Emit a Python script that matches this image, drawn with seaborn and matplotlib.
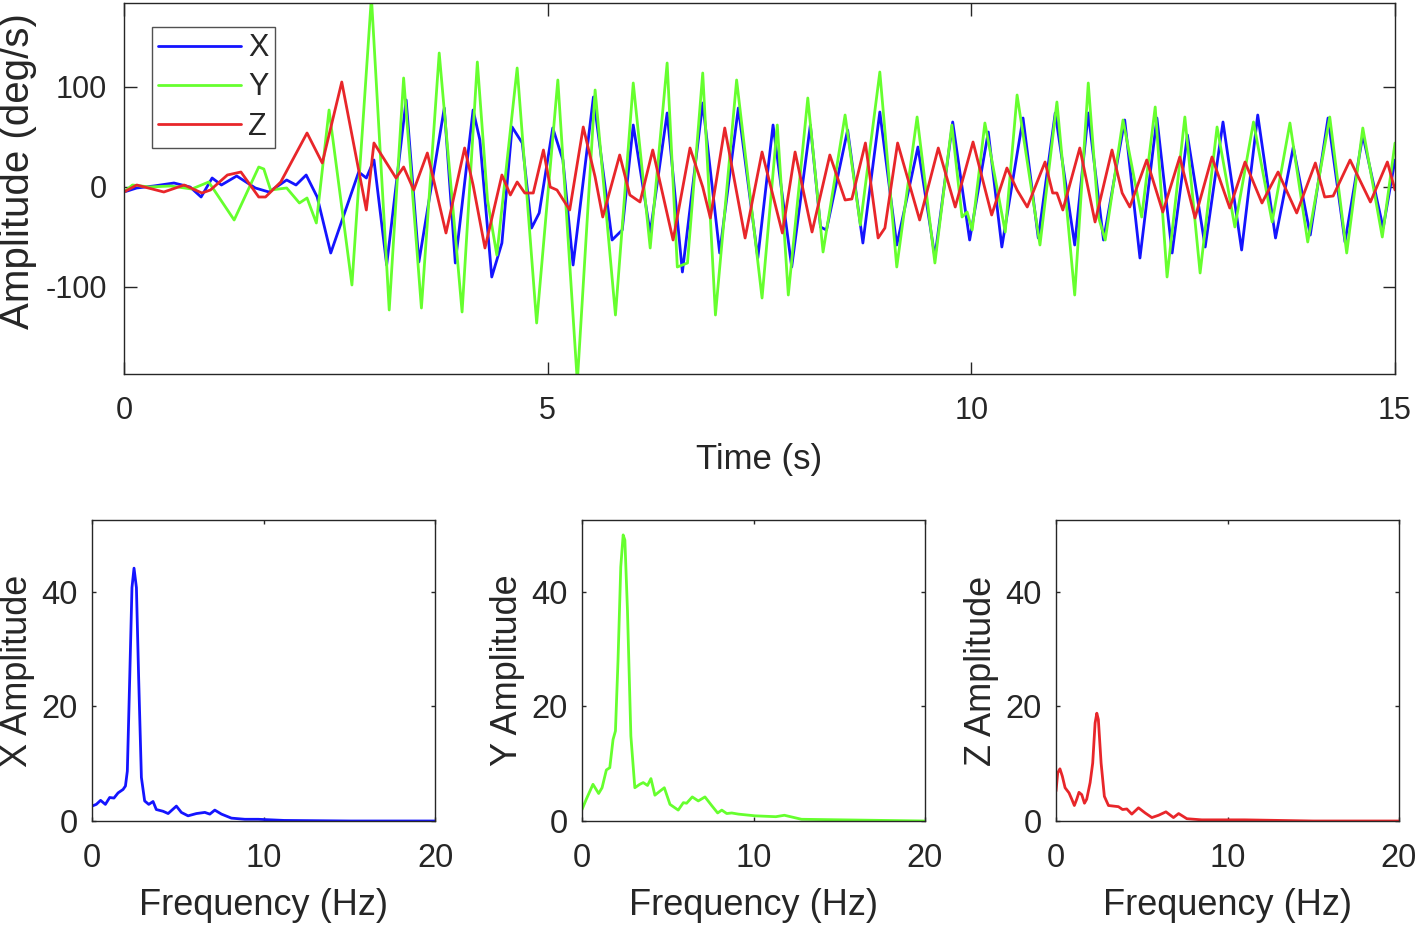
import numpy as np
import pandas as pd
import seaborn as sns
import matplotlib
matplotlib.use('Agg')
import matplotlib.pyplot as plt

# -------------------------
# Data
# -------------------------
# time series: (time in s, amplitude in deg/s) at turning points
x_time = [0.0, 0.15, 0.35, 0.59, 0.78, 0.91, 1.04, 1.15, 1.33, 1.55, 1.71, 1.92, 2.03, 2.15, 2.28,
          2.44, 2.77, 2.86, 2.95, 3.10, 3.33, 3.48, 3.78, 3.91, 4.12, 4.20, 4.34, 4.46, 4.58, 4.70,
          4.81, 4.90, 5.06, 5.18, 5.30, 5.54, 5.76, 5.88, 6.01, 6.21, 6.41, 6.59, 6.83, 7.03, 7.25,
          7.48, 7.66, 7.88, 8.10, 8.22, 8.29, 8.54, 8.72, 8.92, 9.12, 9.37, 9.57, 9.78, 9.98, 10.20,
          10.36, 10.61, 10.79, 10.99, 11.22, 11.38, 11.56, 11.81, 11.99, 12.19, 12.37, 12.55, 12.76,
          12.97, 13.19, 13.38, 13.59, 13.80, 14.00, 14.21, 14.41, 14.62, 14.86, 15.0]
x_amp = [-5, -1, 1, 4, 0, -10, 9, 2, 11, -1, -5, 7, 2, 12, -10,
         -66, 15, 9, 27, -78, 87, -75, 79, -76, 77, 47, -90, -56, 60, 44,
         -41, -26, 59, 27, -78, 90, -53, -43, 62, -46, 74, -85, 84, -66, 79,
         -71, 62, -80, 62, -40, -43, 57, -56, 75, -58, 40, -70, 65, -53, 55,
         -60, 69, -51, 74, -58, 74, -53, 67, -71, 69, -66, 52, -60,
         65, -63, 72, -51, 40, -48, 69, -55, 52, -41, 27]

y_time = [0.0, 0.1, 0.3, 0.55, 0.8, 1.0, 1.30, 1.59, 1.65, 1.73, 1.92, 2.07, 2.16, 2.27, 2.42,
          2.69, 2.92, 3.13, 3.30, 3.51, 3.72, 3.99, 4.17, 4.29, 4.40, 4.64, 4.87, 5.12, 5.35, 5.56,
          5.80, 6.01, 6.21, 6.41, 6.53, 6.65, 6.83, 6.98, 7.23, 7.53, 7.71, 7.84, 8.07, 8.25, 8.51,
          8.69, 8.92, 9.12, 9.36, 9.57, 9.77, 9.89, 9.95, 10.01, 10.16, 10.40, 10.54, 10.81, 11.01,
          11.22, 11.38, 11.50, 11.58, 11.79, 12.01, 12.17, 12.31, 12.52, 12.70, 12.90, 13.11, 13.33,
          13.55, 13.76, 13.97, 14.23, 14.43, 14.62, 14.85, 15.0]
y_amp = [-5, 2, 0, 1, -2, 5, -33, 20, 18, -3, -1, -16, -11, -36, 77,
         -98, 190, -123, 109, -121, 134, -125, 125, -13, -68, 119, -136, 107, -195, 97,
         -128, 104, -61, 124, -80, -76, 114, -128, 107, -111, 62, -108, 89, -65, 72,
         -38, 115, -80, 70, -76, 62, -30, -25, -43, 64, -45, 92, -58, 85,
         -108, 104, -30, -53, 67, -30, 80, -90, 70, -86, 60, -40, 65,
         -35, 64, -55, 70, -66, 59, -50, 44]

z_time = [0.0, 0.15, 0.47, 0.71, 0.92, 1.02, 1.22, 1.38, 1.59, 1.67, 1.85, 2.16, 2.34, 2.57, 2.86,
          2.95, 3.21, 3.30, 3.42, 3.58, 3.80, 4.02, 4.12, 4.26, 4.46, 4.56, 4.64, 4.73, 4.83, 4.95,
          5.03, 5.11, 5.26, 5.42, 5.56, 5.65, 5.85, 5.97, 6.09, 6.24, 6.48, 6.68, 6.83, 6.92, 7.09,
          7.33, 7.53, 7.77, 7.92, 8.12, 8.33, 8.51, 8.59, 8.75, 8.90, 8.98, 9.13, 9.39, 9.61, 9.81,
          10.02, 10.24, 10.42, 10.54, 10.66, 10.87, 10.96, 11.01, 11.08, 11.28, 11.46, 11.66, 11.78,
          11.87, 12.07, 12.26, 12.46, 12.64, 12.84, 13.05, 13.23, 13.43, 13.62, 13.84, 14.06, 14.17,
          14.27, 14.47, 14.71, 14.91, 15.0]
z_amp = [-5, 2, -5, 2, -6, -3, 12, 15, -10, -10, 5, 54, 24, 105, -23,
         44, 9, 20, -3, 34, -46, 39, 2, -61, 12, -8, 5, -6, -6, 37,
         0, -3, -23, 60, 10, -30, 32, -8, -15, 37, -53, 39, 0, -31, 59,
         -51, 35, -46, 35, -45, 32, -13, -12, 44, -51, -41, 44, -33, 39, -20,
         45, -28, 19, -3, -20, 25, -6, -6, -23, 39, -35, 37, -6,
         -20, 27, -25, 30, -31, 30, -21, 25, -16, 15, -26, 24, -10,
         -9, 27, -15, 25, -3]

# spectra: (frequency in Hz, amplitude)
x_freq = [0, 0.25, 0.5, 0.78, 1.03, 1.28, 1.52, 1.81, 1.95, 2.06, 2.2, 2.33, 2.45, 2.59, 2.72,
          2.88, 3.07, 3.31, 3.56, 3.75, 4.14, 4.44, 4.92, 5.21, 5.6, 6.09, 6.58, 6.87, 7.16, 7.55,
          8.13, 8.91, 9.69, 11.2, 15.1, 20]
x_spec = [2.6, 2.9, 3.6, 2.9, 4.1, 4.0, 4.9, 5.5, 6.1, 8.7, 25, 40.7, 44.1, 40.7, 25,
          7.6, 3.5, 2.9, 3.4, 2.0, 1.7, 1.3, 2.6, 1.5, 0.9, 1.3, 1.5, 1.2, 1.9, 1.2,
          0.5, 0.3, 0.3, 0.1, 0.0, 0.0]

y_freq = [0, 0.25, 0.64, 0.97, 1.17, 1.42, 1.62, 1.81, 1.95, 2.1, 2.26, 2.4, 2.5, 2.65, 2.85,
          3.08, 3.37, 3.57, 3.82, 4.02, 4.25, 4.54, 4.8, 5.13, 5.61, 5.91, 6.1, 6.43, 6.78, 7.17,
          7.56, 7.91, 8.15, 8.44, 8.73, 9.12, 10.1, 11.3, 11.8, 12.8, 15.2, 20]
y_spec = [2.0, 3.8, 6.4, 4.8, 5.8, 8.9, 9.3, 14.2, 15.7, 28, 44.3, 49.9, 49, 36.8, 14.8,
          5.8, 6.4, 6.7, 6.2, 7.4, 4.5, 5.2, 5.8, 2.9, 1.9, 3.2, 3.1, 4.2, 3.5, 4.2,
          2.7, 1.4, 1.9, 1.3, 1.4, 1.2, 0.9, 0.75, 1.0, 0.3, 0.2, 0.0]

z_freq = [0, 0.1, 0.23, 0.37, 0.53, 0.76, 0.92, 1.07, 1.21, 1.34, 1.5, 1.66, 1.79, 1.99, 2.14,
          2.28, 2.38, 2.47, 2.63, 2.82, 3.06, 3.35, 3.64, 3.88, 4.13, 4.42, 4.81, 5.2, 5.59, 5.98,
          6.41, 6.85, 7.15, 7.63, 8.5, 9.5, 11, 15, 20]
z_spec = [5.2, 8.4, 9.1, 7.8, 5.8, 4.9, 3.8, 2.7, 3.8, 5.0, 4.6, 3.1, 3.8, 6.7, 10.1,
          17.1, 18.8, 17.7, 10.1, 4.3, 2.7, 2.6, 2.5, 2.0, 2.1, 1.2, 2.3, 1.4, 0.6, 1.0,
          1.6, 0.6, 1.3, 0.4, 0.2, 0.2, 0.2, 0.0, 0.0]

names = ['X', 'Y', 'Z']
colors = ['#1414ff', '#66ff2e', '#e8262a']

# -------------------------
# Style
# -------------------------
sns.set_theme(style='ticks')
plt.rcParams['font.family'] = ['Liberation Sans', 'DejaVu Sans']
ink = '#262626'
plt.rcParams.update({
    'axes.edgecolor': ink, 'axes.linewidth': 1.0,
    'xtick.color': ink, 'ytick.color': ink,
    'xtick.labelcolor': ink, 'ytick.labelcolor': ink,
    'axes.labelcolor': ink,
    'axes.unicode_minus': False,
})

fig = plt.figure(figsize=(14.18, 9.25), dpi=100)

# -------------------------
# Top: time series
# -------------------------
ax = fig.add_axes([124 / 1418, 1 - 374 / 925, 1271 / 1418, 371 / 925])
series = [(x_time, x_amp), (y_time, y_amp), (z_time, z_amp)]
for (t, a), name, c in zip(series, names, colors):
    df = pd.DataFrame({'t': t, 'a': a})
    sns.lineplot(data=df, x='t', y='a', ax=ax, color=c, lw=2.0, label=name,
                 sort=False, estimator=None)
ax.set_xlim(0, 15)
ax.set_ylim(-187, 184)
ax.set_xticks([0, 5, 10, 15])
ax.set_yticks([-100, 0, 100])
ax.tick_params(direction='in', top=True, right=True, length=9, width=1.0,
               labelsize=22)
ax.tick_params(axis='x', pad=16)
ax.tick_params(axis='y', pad=12)
ax.set_xlabel('Time (s)', fontsize=25, labelpad=12)
ax.set_ylabel('Amplitude (deg/s)', fontsize=29)
ax.yaxis.set_label_coords(-0.0685, 0.546)
leg = ax.legend(loc='upper left', bbox_to_anchor=(0.022, 0.935), borderaxespad=0,
                fontsize=22, frameon=True, fancybox=False, edgecolor=ink,
                handlelength=2.7, handletextpad=0.25, labelspacing=0.3,
                borderpad=0.2)
leg.get_frame().set_linewidth(1.0)

# -------------------------
# Bottom: spectra
# -------------------------
spectra = [(x_freq, x_spec), (y_freq, y_spec), (z_freq, z_spec)]
lefts = [92, 582, 1056]
for (f, s), name, c, left in zip(spectra, names, colors, lefts):
    axs = fig.add_axes([left / 1418, 1 - 821 / 925, 343 / 1418, 301 / 925])
    df = pd.DataFrame({'f': f, 's': s})
    sns.lineplot(data=df, x='f', y='s', ax=axs, color=c, lw=2.0,
                 sort=False, estimator=None)
    axs.set_xlim(0, 20)
    axs.set_ylim(0, 52.5)
    axs.set_xticks([0, 10, 20])
    axs.set_yticks([0, 20, 40])
    axs.tick_params(direction='in', top=True, right=True, length=3, width=1.0,
                    labelsize=23.5)
    axs.tick_params(axis='x', pad=16)
    axs.tick_params(axis='y', pad=10)
    axs.set_xlabel('Frequency (Hz)', fontsize=26, labelpad=10)
    axs.set_ylabel(f'{name} Amplitude', fontsize=26)
    axs.yaxis.set_label_coords(-0.166, 0.5)

fig.savefig('out.png', dpi=100)
